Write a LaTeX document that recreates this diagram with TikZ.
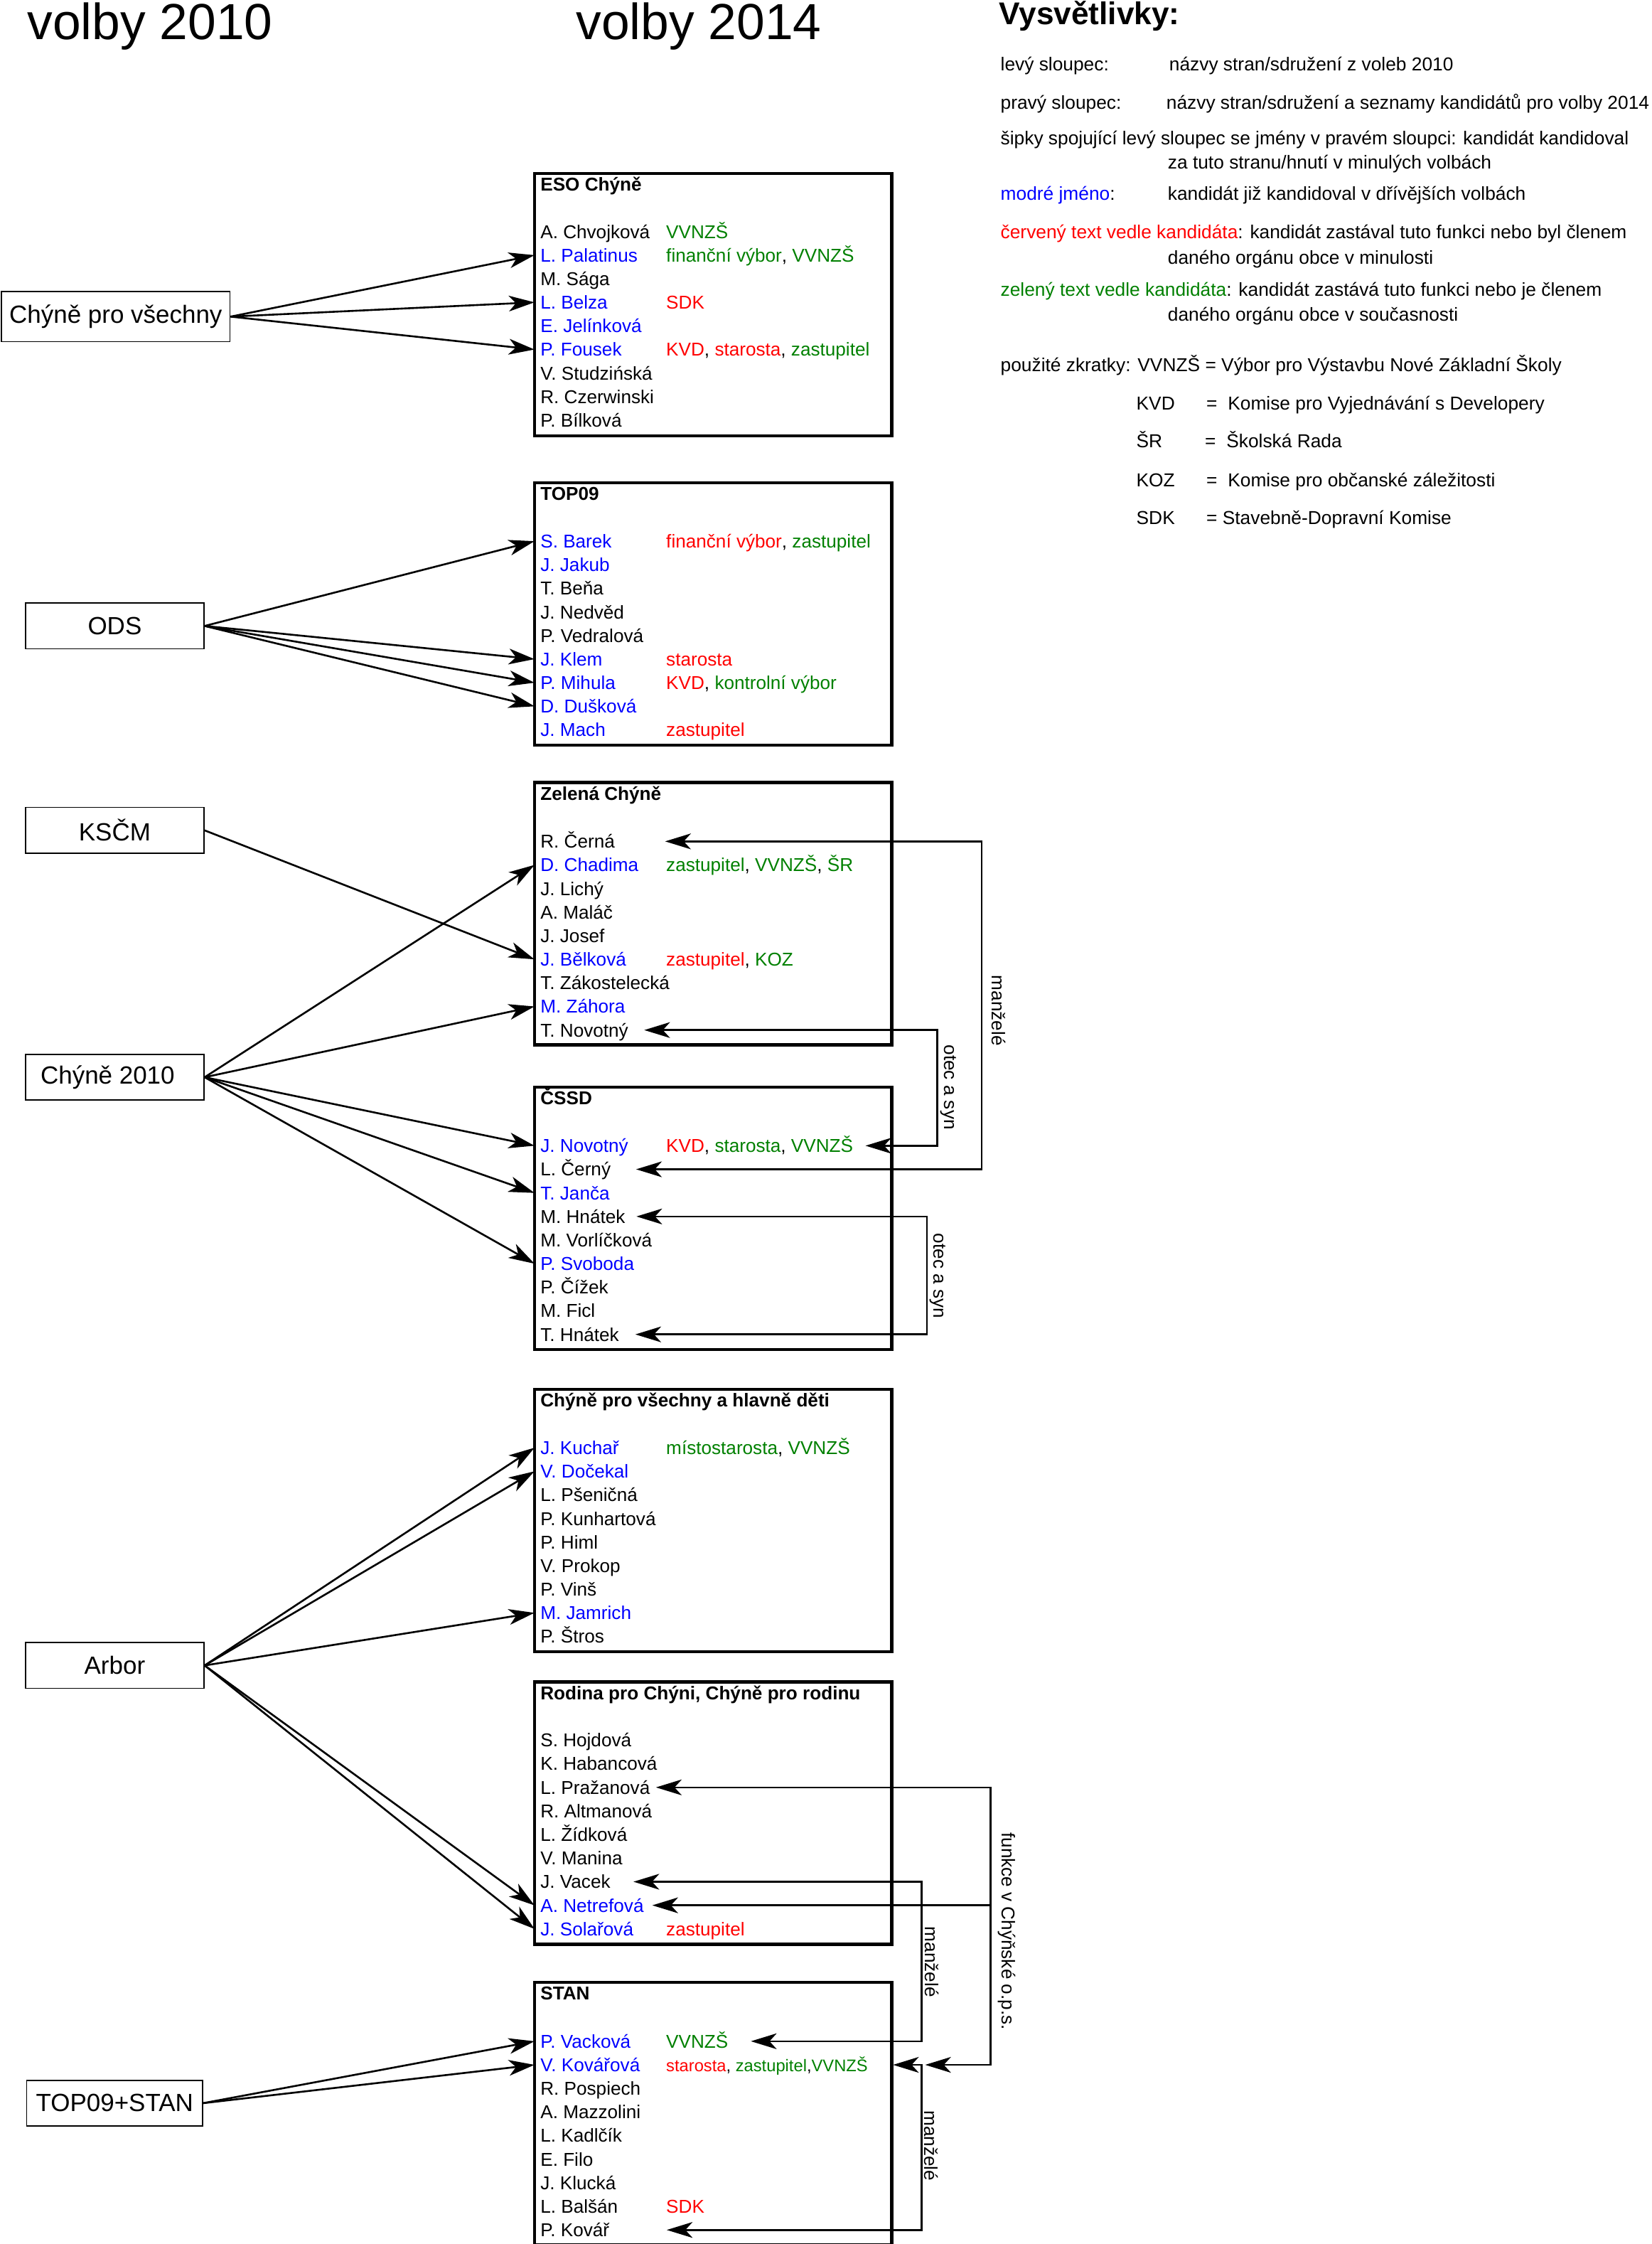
\documentclass[tikz,border=0pt]{standalone}
\usepackage{fontspec}
\setmainfont{Liberation Sans}
\usetikzlibrary{arrows.meta}
\definecolor{cblue}{RGB}{0,0,255}
\definecolor{cred}{RGB}{255,0,0}
\definecolor{cgreen}{RGB}{0,128,0}
\tikzset{
  oldparty/.style={draw, line width=0.8pt, minimum width=125pt, minimum height=32pt, inner sep=2pt, font=\fontsize{17.4}{20}\selectfont},
  newparty/.style={draw, line width=2.2pt, anchor=north west, minimum width=250pt, minimum height=183.5pt},
  cand/.style={anchor=west, inner xsep=4pt, inner ysep=0pt, text height=9.3pt, text depth=0pt, font=\fontsize{13}{15}\selectfont},
  ptitle/.style={cand, font=\fontsize{13}{15}\selectfont\bfseries},
  known/.style={cand, text=cblue},
  func/.style={cand, inner xsep=0pt},
  legend/.style={cand, inner xsep=0pt, font=\fontsize{13.1}{15}\selectfont},
  tip/.tip={Stealth[length=18pt,width=11pt,inset=5pt]},
  link/.style={-tip, line width=1.3pt},
  rel/.style={tip-tip, line width=1.3pt},
  relend/.style={-tip, line width=1.3pt},
  rellabel/.style={rotate=-90, inner sep=0pt, font=\fontsize{13}{15}\selectfont},
  heading/.style={anchor=base west, inner sep=0pt, font=\fontsize{35.5}{40}\selectfont}
}
\begin{document}
\begin{tikzpicture}[x=1pt,y=-1pt]
    \useasboundingbox (0,0) rectangle (1156,1569.85);

    \node[heading] (Y10) at (19,27.5) {volby 2010};
    \node[heading] (Y14) at (403,27.5) {volby 2014};

    \node[anchor=base west, inner sep=0pt, font=\fontsize{22}{26}\selectfont\bfseries] (V0) at (699,17) {Vysvětlivky:};
    \node[legend] (L1) at (700,44.8) {levý sloupec:};
    \node[legend] (L1b) at (818,44.8) {názvy stran/sdružení z voleb 2010};
    \node[legend] (L2) at (700,71.6) {pravý sloupec:};
    \node[legend] (L2b) at (816,71.6) {názvy stran/sdružení a seznamy kandidátů pro volby 2014};
    \node[legend] (L3) at (700,96.4) {šipky spojující levý sloupec se jmény v pravém sloupci: kandidát kandidoval};
    \node[legend] (L3b) at (817,113.3) {za tuto stranu/hnutí v minulých volbách};
    \node[legend] (L4) at (700,135.5) {{\color{cblue}modré jméno}:};
    \node[legend] (L4b) at (817,135.5) {kandidát již kandidoval v dřívějších volbách};
    \node[legend] (L5) at (700,162) {{\color{cred}červený text vedle kandidáta}: kandidát zastával tuto funkci nebo byl členem};
    \node[legend] (L5b) at (817,180) {daného orgánu obce v minulosti};
    \node[legend] (L6) at (700,202.5) {{\color{cgreen}zelený text vedle kandidáta}: kandidát zastává tuto funkci nebo je členem};
    \node[legend] (L6b) at (817,220) {daného orgánu obce v současnosti};
    \node[legend] (L7) at (700,255) {použité zkratky: VVNZŠ = Výbor pro Výstavbu Nové Základní Školy};
    \node[legend] (K1) at (795,282) {KVD};
    \node[legend] (K1e) at (844,282) {=};
    \node[legend] (K1b) at (859,282) {Komise pro Vyjednávání s Developery};
    \node[legend] (K2) at (795,308.6) {ŠR};
    \node[legend] (K2e) at (843,308.6) {=};
    \node[legend] (K2b) at (858,308.6) {Školská Rada};
    \node[legend] (K3) at (795,335.6) {KOZ};
    \node[legend] (K3e) at (844,335.6) {=};
    \node[legend] (K3b) at (859,335.6) {Komise pro občanské záležitosti};
    \node[legend] (K4) at (795,362.4) {SDK};
    \node[legend] (K4b) at (844,362.4) {= Stavebně-Dopravní Komise};

    \node[oldparty, minimum width=160pt, minimum height=35pt] (CPV) at (81,221.5) {Chýně pro všechny};
    \node[oldparty] (ODS) at (80.3,437.9) {ODS};
    \node[oldparty] (KSCM) at (80.3,580.9) {KSČM};
    \node[oldparty] (CH10) at (80.3,753.6) {Chýně 2010\hspace*{10pt}};
    \node[oldparty] (ARB) at (80.3,1165.1) {Arbor};
    \node[oldparty, minimum width=123.2pt] (TS) at (80.2,1471.3) {TOP09+STAN};

    \node[newparty] (ESO) at (373,120.3) {};
    \node[ptitle] (E0) at (374,129) {ESO Chýně};
    \node[cand] (E1) at (374,162) {A. Chvojková};
    \node[func] (E1a) at (466,162) {\color{cgreen}VVNZŠ};
    \node[known] (E2) at (374,178.5) {L. Palatinus};
    \node[func] (E2a) at (466,178.5) {{\color{cgreen}finanční výbor}, {\color{cgreen}VVNZŠ}};
    \node[cand] (E3) at (374,195) {M. Sága};
    \node[known] (E4) at (374,211.5) {L. Belza};
    \node[func] (E4a) at (466,211.5) {\color{cred}SDK};
    \node[known] (E5) at (374,228) {E. Jelínková};
    \node[known] (E6) at (374,244.5) {P. Fousek};
    \node[func] (E6a) at (466,244.5) {{\color{cred}KVD}, {\color{cred}starosta}, {\color{cgreen}zastupitel}};
    \node[cand] (E7) at (374,261) {V. Studzińská};
    \node[cand] (E8) at (374,277.5) {R. Czerwinski};
    \node[cand] (E9) at (374,294) {P. Bílková};

    \node[newparty] (TOP) at (373,336.6) {};
    \node[ptitle] (T0) at (374,345.2) {TOP09};
    \node[known] (T1) at (374,378.6) {S. Barek};
    \node[func] (T1a) at (466,378.6) {{\color{cred}finanční výbor}, {\color{cgreen}zastupitel}};
    \node[known] (T2) at (374,395.1) {J. Jakub};
    \node[cand] (T3) at (374,411.6) {T. Beňa};
    \node[cand] (T4) at (374,428.1) {J. Nedvěd};
    \node[cand] (T5) at (374,444.6) {P. Vedralová};
    \node[known] (T6) at (374,461.1) {J. Klem};
    \node[func] (T6a) at (466,461.1) {\color{cred}starosta};
    \node[known] (T7) at (374,477.6) {P. Mihula};
    \node[func] (T7a) at (466,477.6) {{\color{cred}KVD}, {\color{cgreen}kontrolní výbor}};
    \node[known] (T8) at (374,494.1) {D. Dušková};
    \node[known] (T9) at (374,510.6) {J. Mach};
    \node[func] (T9a) at (466,510.6) {\color{cred}zastupitel};

    \node[newparty] (ZEL) at (373,546.3) {};
    \node[ptitle] (Z0) at (374,555) {Zelená Chýně};
    \node[cand] (Z1) at (374,588.6) {R. Černá};
    \node[known] (Z2) at (374,605.1) {D. Chadima};
    \node[func] (Z2a) at (466,605.1) {{\color{cgreen}zastupitel}, {\color{cgreen}VVNZŠ}, {\color{cgreen}ŠR}};
    \node[cand] (Z3) at (374,621.6) {J. Lichý};
    \node[cand] (Z4) at (374,638.1) {A. Maláč};
    \node[cand] (Z5) at (374,654.6) {J. Josef};
    \node[known] (Z6) at (374,671.1) {J. Bělková};
    \node[func] (Z6a) at (466,671.1) {{\color{cred}zastupitel}, {\color{cgreen}KOZ}};
    \node[cand] (Z7) at (374,687.6) {T. Zákostelecká};
    \node[known] (Z8) at (374,704.1) {M. Záhora};
    \node[cand] (Z9) at (374,720.6) {T. Novotný};

    \node[newparty] (CSSD) at (373,759.4) {};
    \node[ptitle] (C0) at (374,768) {ČSSD};
    \node[known] (C1) at (374,801.5) {J. Novotný};
    \node[func] (C1a) at (466,801.5) {{\color{cred}KVD}, {\color{cgreen}starosta}, {\color{cgreen}VVNZŠ}};
    \node[cand] (C2) at (374,818) {L. Černý};
    \node[known] (C3) at (374,834.5) {T. Janča};
    \node[cand] (C4) at (374,851) {M. Hnátek};
    \node[cand] (C5) at (374,867.5) {M. Vorlíčková};
    \node[known] (C6) at (374,884) {P. Svoboda};
    \node[cand] (C7) at (374,900.5) {P. Čížek};
    \node[cand] (C8) at (374,917) {M. Ficl};
    \node[cand] (C9) at (374,933.5) {T. Hnátek};

    \node[newparty] (DETI) at (373,970.8) {};
    \node[ptitle] (D0) at (374,979.5) {Chýně pro všechny a hlavně děti};
    \node[known] (D1) at (374,1012.8) {J. Kuchař};
    \node[func] (D1a) at (466,1012.8) {{\color{cgreen}místostarosta}, {\color{cgreen}VVNZŠ}};
    \node[known] (D2) at (374,1029.3) {V. Dočekal};
    \node[cand] (D3) at (374,1045.8) {L. Pšeničná};
    \node[cand] (D4) at (374,1062.3) {P. Kunhartová};
    \node[cand] (D5) at (374,1078.8) {P. Himl};
    \node[cand] (D6) at (374,1095.3) {V. Prokop};
    \node[cand] (D7) at (374,1111.8) {P. Vinš};
    \node[known] (D8) at (374,1128.3) {M. Jamrich};
    \node[cand] (D9) at (374,1144.8) {P. Štros};

    \node[newparty] (ROD) at (373,1175.6) {};
    \node[ptitle] (R0) at (374,1184.2) {Rodina pro Chýni, Chýně pro rodinu};
    \node[cand] (R1) at (374,1217.4) {S. Hojdová};
    \node[cand] (R2) at (374,1233.9) {K. Habancová};
    \node[cand] (R3) at (374,1250.4) {L. Pražanová};
    \node[cand] (R4) at (374,1266.9) {R. Altmanová};
    \node[cand] (R5) at (374,1283.4) {L. Žídková};
    \node[cand] (R6) at (374,1299.9) {V. Manina};
    \node[cand] (R7) at (374,1316.4) {J. Vacek};
    \node[known] (R8) at (374,1332.9) {A. Netrefová};
    \node[known] (R9) at (374,1349.4) {J. Solařová};
    \node[func] (R9a) at (466,1349.4) {\color{cred}zastupitel};

    \node[newparty] (STAN) at (373,1385.8) {};
    \node[ptitle] (S0) at (374,1394.4) {STAN};
    \node[known] (S1) at (374,1428) {P. Vacková};
    \node[func] (S1a) at (466,1428) {\color{cgreen}VVNZŠ};
    \node[known] (S2) at (374,1444.5) {V. Kovářová};
    \node[func, font=\fontsize{11.8}{14}\selectfont] (S2a) at (466,1444.5) {{\color{cred}starosta}, {\color{cgreen}zastupitel},{\color{cgreen}VVNZŠ}};
    \node[cand] (S3) at (374,1461) {R. Pospiech};
    \node[cand] (S4) at (374,1477.5) {A. Mazzolini};
    \node[cand] (S5) at (374,1494) {L. Kadlčík};
    \node[cand] (S6) at (374,1510.5) {E. Filo};
    \node[cand] (S7) at (374,1527) {J. Klucká};
    \node[cand] (S8) at (374,1543.5) {L. Balšán};
    \node[func] (S8a) at (466,1543.5) {\color{cred}SDK};
    \node[cand] (S9) at (374,1560) {P. Kovář};

    \draw[link] (CPV.east) -- (E2.west);
    \draw[link] (CPV.east) -- (E4.west);
    \draw[link] (CPV.east) -- (E6.west);
    \draw[link] (ODS.east) -- (T1.west);
    \draw[link] (ODS.east) -- (T6.west);
    \draw[link] (ODS.east) -- (T7.west);
    \draw[link] (ODS.east) -- (T8.west);
    \draw[link] (KSCM.east) -- (Z6.west);
    \draw[link] (CH10.east) -- (Z2.west);
    \draw[link] (CH10.east) -- (Z8.west);
    \draw[link] (CH10.east) -- (C1.west);
    \draw[link] (CH10.east) -- (C3.west);
    \draw[link] (CH10.east) -- (C6.west);
    \draw[link] (ARB.east) -- (D1.west);
    \draw[link] (ARB.east) -- (D2.west);
    \draw[link] (ARB.east) -- (D8.west);
    \draw[link] (ARB.east) -- (R8.west);
    \draw[link] (ARB.east) -- (R9.west);
    \draw[link] (TS.east) -- (S1.west);
    \draw[link] (TS.east) -- (S2.west);

    \draw[rel] ([xshift=31pt]Z1.east) -| (687,707) |- ([xshift=13.6pt]C2.east);
    \node[rellabel] (M1) at (699,707) {manželé};
    \draw[rel] ([xshift=7pt]Z9.east) -| (655.7,760) |- ([xshift=8.5pt]C1a.east);
    \node[rellabel] (O1) at (663.7,760.6) {otec a syn};
    \draw[rel] ([xshift=3.7pt]C4.east) -| (648.6,892) |- ([xshift=7.3pt]C9.east);
    \node[rellabel] (O2) at (656,892.6) {otec a syn};
    \draw[rel] ([xshift=12pt]R7.east) -| (645,1372) |- ([xshift=15.7pt]S1a.east);
    \node[rellabel] (M2) at (652,1372.5) {manželé};
    \draw[rel] ([xshift=17.5pt]S2a.east) -| (645,1500) |- ([xshift=36pt]S9.east);
    \node[rellabel] (M3) at (651.5,1501) {manželé};
    \coordinate (fx) at (693,1351);
    \draw[rel] (R3.east) -| (fx) |- ([xshift=40pt]S2a.east);
    \draw[relend] (R8.east -| fx) -- ([xshift=1.8pt]R8.east);
    \node[rellabel] (F1) at (704.5,1351) {funkce v Chýňské o.p.s.};
\end{tikzpicture}
\end{document}
